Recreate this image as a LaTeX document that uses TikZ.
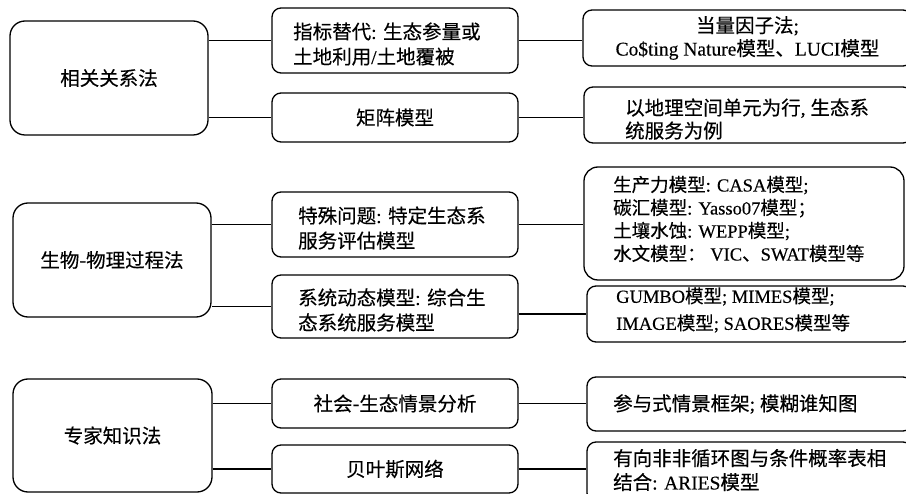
\documentclass[tikz,border=0pt]{standalone}
\usepackage{fontspec}
\setmainfont[FakeBold=0.3]{Liberation Serif}
\newfontfamily\cjk[FakeBold=0.35]{Noto Sans CJK SC}
\newcommand\zh[1]{{\cjk #1}}
\begin{document}
\begin{tikzpicture}[x=1pt,y=-1pt,
  box/.style={draw, line width=1.3pt, inner sep=0pt, align=center, font=\fontsize{19.5}{23}\selectfont},
  bigr/.style={rounded corners=15pt},
  midr/.style={rounded corners=9pt},
  txt/.style={anchor=west, align=left, inner sep=0pt, font=\fontsize{19.5}{25}\selectfont},
  link/.style={line width=1.3pt}]
\useasboundingbox (0,0) rectangle (906,494);
% left column
\node[box, bigr, minimum width=198, minimum height=114] (L1) at (109,78) {\zh{相关关系法}};
\node[box, bigr, minimum width=198, minimum height=114] (L2) at (112,260) {\zh{生物-物理过程法}};
\node[box, bigr, minimum width=199, minimum height=113] (L3) at (112.5,435.5) {\zh{专家知识法}};
% middle column
\node[box, midr, minimum width=246, minimum height=65] (M1) at (395,40.5) {};
\node[txt] (M1t) at (293,44) {\zh{指标替代}: \zh{生态参量或}\\\zh{土地利用}/\zh{土地覆被}};
\node[box, midr, minimum width=246, minimum height=49] (M2) at (395,117.5) {\zh{矩阵模型}};
\node[box, midr, minimum width=246, minimum height=65] (M3) at (395,224.5) {};
\node[txt] (M3t) at (298,228) {\zh{特殊问题}: \zh{特定生态系}\\\zh{服务评估模型}};
\node[box, midr, minimum width=246, minimum height=63] (M4) at (395,306.5) {};
\node[txt] (M4t) at (298,310) {\zh{系统动态模型}: \zh{综合生}\\\zh{态系统服务模型}};
\node[box, midr, minimum width=246, minimum height=49] (M5) at (395,403.5) {\zh{社会-生态情景分析}};
\node[box, midr, minimum width=246, minimum height=48] (M6) at (395,469) {\zh{贝叶斯网络}};
% right column
\node[box, midr, minimum width=329, minimum height=56] (R1) at (747.5,38) {\zh{当量因子法};\\Co\$ting Nature\zh{模型、}LUCI\zh{模型}};
\node[box, midr, minimum width=328, minimum height=56] (R2) at (748,115) {};
\node[txt, font=\fontsize{19.5}{23}\selectfont] (R2t) at (625,119) {\zh{以地理空间单元为行}, \zh{生态系}\\\zh{统服务为例}};
\node[box, midr, rounded corners=14pt, minimum width=320, minimum height=113] (R3) at (744,223.5) {};
\node[txt, font=\fontsize{18.5}{23}\selectfont] (R3t) at (613,219) {\zh{生产力模型}: CASA\zh{模型};\\\zh{碳汇模型}: Yasso07\zh{模型；}\\\zh{土壤水蚀}: WEPP\zh{模型};\\\zh{水文模型：} VIC\zh{、}SWAT\zh{模型等}};
\node[box, midr, minimum width=325, minimum height=56] (R4) at (749.5,314) {};
\node[txt, font=\fontsize{18.5}{27}\selectfont] (R4t) at (616,310) {GUMBO\zh{模型}; MIMES\zh{模型};\\IMAGE\zh{模型}; SAORES\zh{模型等}};
\node[box, midr, minimum width=325, minimum height=54] (R5) at (749.5,404) {};
\node[txt] (R5t) at (613,404) {\zh{参与式情景框架}; \zh{模糊谁知图}};
\node[box, midr, minimum width=325, minimum height=60] (R6) at (749.5,472) {};
\node[txt, font=\fontsize{19.5}{24}\selectfont] (R6t) at (613,470) {\zh{有向非非循环图与条件概率表相}\\\zh{结合}: ARIES\zh{模型}};
% connectors
\draw[link] (L1.east |- M1.west) -- (M1.west);
\draw[link] (L1.east |- M2.west) -- (M2.west);
\draw[link] (L2.east |- M3.west) -- (M3.west);
\draw[link] (L2.east |- M4.west) -- (M4.west);
\draw[link] (L3.east |- M5.west) -- (M5.west);
\draw[link] (L3.east |- M6.west) -- (M6.west);
\draw[link] (M1.east) -- (R1.west |- M1.east);
\draw[link] (M2.east) -- (R2.west |- M2.east);
\draw[link] (M3.east) -- (R3.west |- M3.east);
\draw[link] (M4.east |- R4.west) -- (R4.west);
\draw[link] (M5.east) -- (R5.west |- M5.east);
\draw[link] (M6.east) -- (R6.west |- M6.east);
\end{tikzpicture}
\end{document}
